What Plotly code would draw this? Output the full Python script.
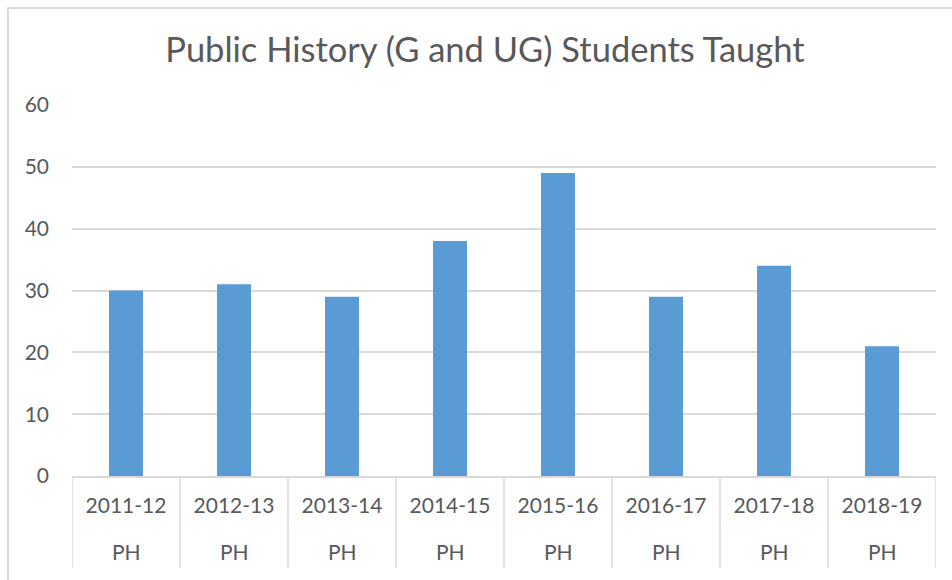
import plotly.graph_objects as go

years = ["2011-12", "2012-13", "2013-14", "2014-15", "2015-16", "2016-17", "2017-18", "2018-19"]
group_labels = ["PH"] * 8
students = [30, 31, 29, 38, 49, 29, 34, 21]
y_ticks = [0, 10, 20, 30, 40, 50, 60]

TEXT = "#595959"
GRID = "#D9D9D9"
FONT = "Lato"

W, H = 952, 580
L, R, T, B = 72, 16, 105, 104
pw, ph = W - L - R, H - T - B

def px_to_paper_x(px):
    return (px - L) / pw

def px_to_paper_y(py):
    return (H - B - py) / ph

fig = go.Figure()
fig.add_trace(go.Bar(x=years, y=students, marker=dict(color="#5B9BD5", line=dict(width=0)),
                     hoverinfo="x+y"))

# second-level category labels
for yr, g in zip(years, group_labels):
    fig.add_annotation(x=yr, xref="x", y=px_to_paper_y(551), yref="paper",
                       text=g, showarrow=False, yanchor="middle",
                       font=dict(family=FONT, size=21, color=TEXT))

# category dividers (multi-level axis look)
n = len(years)
for i in range(n + 1):
    fig.add_shape(type="line", xref="x", yref="paper",
                  x0=i - 0.5, x1=i - 0.5, y0=0, y1=px_to_paper_y(568),
                  line=dict(color=GRID, width=1.5))

# chart-area border (partially cropped at right/bottom)
fig.add_shape(type="rect", xref="paper", yref="paper",
              x0=px_to_paper_x(8), x1=px_to_paper_x(990),
              y0=px_to_paper_y(640), y1=px_to_paper_y(8),
              line=dict(color="#D9D9D9", width=2), layer="below")

fig.update_layout(
    width=W, height=H,
    margin=dict(l=L, r=R, t=T, b=B),
    paper_bgcolor="white", plot_bgcolor="white",
    bargap=0.685,
    showlegend=False,
    title=dict(text="Public History (G and UG) Students Taught",
               x=px_to_paper_x(485), xref="paper", xanchor="center",
               y=1 - 50 / H, yref="container", yanchor="middle",
               font=dict(family=FONT, size=34.5, color=TEXT)),
    font=dict(family=FONT, color=TEXT),
)
fig.update_xaxes(type="category", range=[-0.5, n - 0.5], showgrid=False,
                 showline=True, linecolor=GRID, linewidth=1.5,
                 ticks="", tickfont=dict(family=FONT, size=21, color=TEXT),
                 ticklabelstandoff=10, fixedrange=True)
fig.update_yaxes(range=[0, 60], tickvals=y_ticks, showgrid=True, gridcolor=GRID,
                 gridwidth=1.5, zeroline=False, showline=False, ticks="",
                 tickfont=dict(family=FONT, size=21, color=TEXT),
                 ticklabelstandoff=22, fixedrange=True)

fig.write_html("out.html", config={"displayModeBar": False},
               post_script="document.body.style.margin='0';")
